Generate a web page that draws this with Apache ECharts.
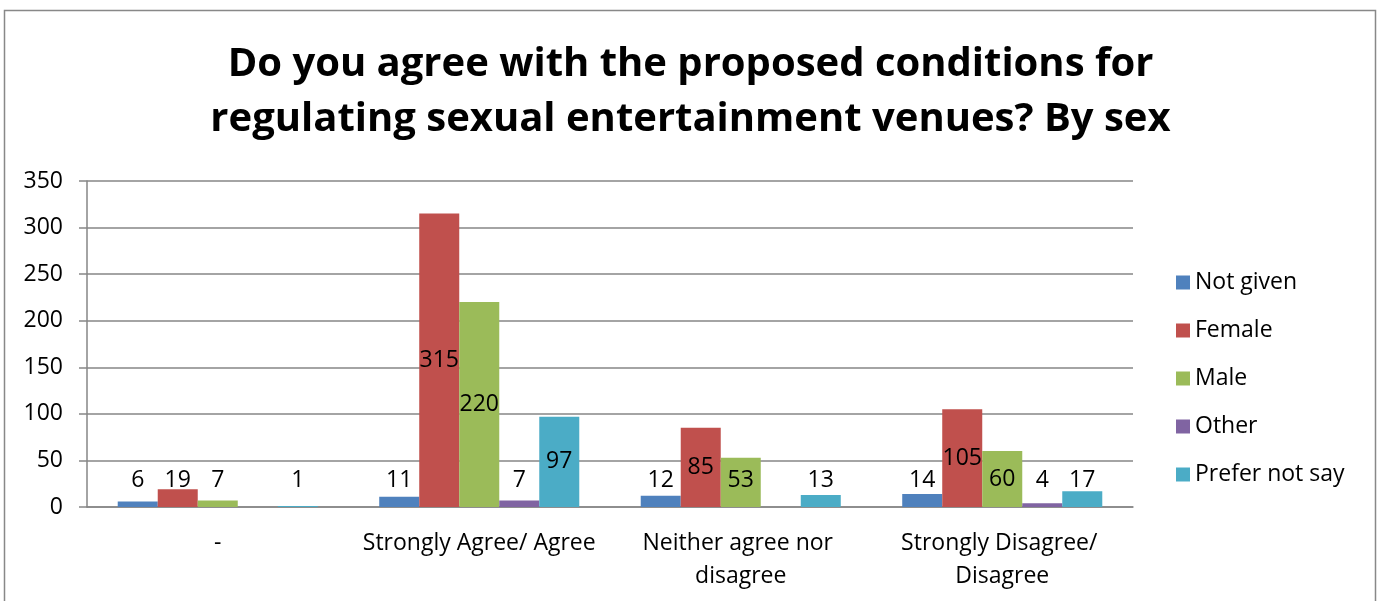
<!DOCTYPE html>
<html lang="en">

<head>
  <meta charset="UTF-8">
  <title>agree by sex</title>
  <script src="https://cdn.jsdelivr.net/npm/echarts@6/dist/echarts.min.js"></script>
  <style>
    body { margin: 0; background: #fff; }
    #chart { width: 1381px; height: 601px; }
  </style>
</head>

<body>
  <div id="chart"></div>
  <script>
    let categories = ['-', 'Strongly Agree/ Agree', 'Neither agree nor disagree', 'Strongly Disagree/ Disagree'];
    let seriesNames = ['Not given', 'Female', 'Male', 'Other', 'Prefer not say'];
    let notGiven = [6, 11, 12, 14];
    let female = [19, 315, 85, 105];
    let male = [7, 220, 53, 60];
    let other = [null, 7, null, 4];
    let preferNotSay = [1, 97, 13, 17];
    let yTicks = [0, 50, 100, 150, 200, 250, 300, 350];
  </script>
  <script>
    let colors = ['#4F81BD', '#C0504D', '#9BBB59', '#8064A2', '#4BACC6'];
    let allValues = [notGiven, female, male, other, preferNotSay];
    let font = '"Open Sans", sans-serif';

    // small bars get their label lifted, like excel does
    function toItems(arr) {
      return arr.map(v => {
        if (v === null) return null;
        if (v >= 58) return { value: v };
        return { value: v, label: { position: 'insideBottom', distance: 15 } };
      });
    }

    let chart = echarts.init(document.getElementById('chart'));
    let option = {
      animation: false,
      color: colors,
      title: {
        text: 'Do you agree with the proposed conditions for\nregulating sexual entertainment venues? By sex',
        left: 'center',
        top: 32,
        textStyle: { fontFamily: font, fontSize: 40, fontWeight: 'bold', color: '#000', lineHeight: 55 }
      },
      graphic: [{
        type: 'rect',
        shape: { x: 4.5, y: 10.5, width: 1371, height: 620 },
        style: { fill: 'none', stroke: '#888', lineWidth: 1.5 },
        silent: true
      }],
      legend: {
        orient: 'vertical',
        left: 1171,
        top: 266,
        itemWidth: 14,
        itemHeight: 14,
        itemGap: 25,
        icon: 'rect',
        data: seriesNames,
        textStyle: { fontFamily: font, fontSize: 23, color: '#000' }
      },
      grid: { left: 87, right: 248, top: 181, bottom: 94 },
      xAxis: {
        type: 'category',
        data: categories,
        axisLine: { lineStyle: { color: '#868686', width: 1.5 } },
        axisTick: { length: 8, lineStyle: { color: '#868686', width: 1.5 } },
        axisLabel: {
          interval: 0,
          fontFamily: font, fontSize: 23, color: '#000', margin: 20,
          width: 255, overflow: 'break', lineHeight: 33
        }
      },
      yAxis: {
        type: 'value',
        min: yTicks[0],
        max: yTicks[yTicks.length - 1],
        interval: 50,
        axisLine: { show: true, lineStyle: { color: '#868686', width: 1.5 } },
        axisTick: { show: true, length: 8, lineStyle: { color: '#868686', width: 1.5 } },
        splitLine: { lineStyle: { color: '#868686', width: 1.5 } },
        axisLabel: { fontFamily: font, fontSize: 23, color: '#000', margin: 24 }
      },
      series: seriesNames.map((name, i) => ({
        type: 'bar',
        name: name,
        data: toItems(allValues[i]),
        barGap: '0%',
        barCategoryGap: '23.5%',
        label: {
          show: true,
          position: 'inside',
          fontFamily: font,
          fontSize: 23,
          color: '#000'
        }
      }))
    };

    chart.setOption(option);
  </script>
</body>

</html>
